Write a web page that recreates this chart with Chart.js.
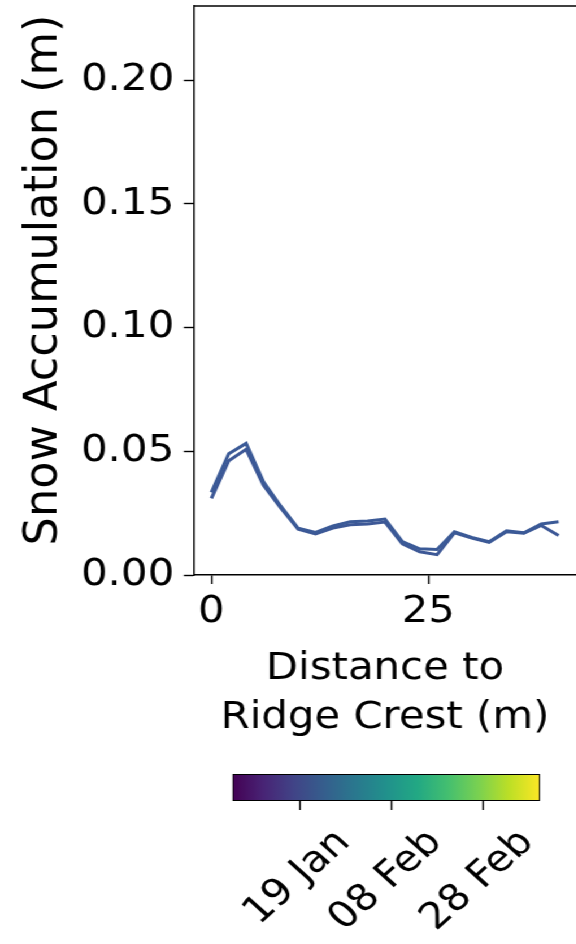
<!DOCTYPE html>
<html>
<head>
<meta charset="utf-8">
<script src="https://cdn.jsdelivr.net/npm/chart.js@4/dist/chart.umd.min.js"></script>
<style>
  html, body { margin: 0; padding: 0; background: #fff; overflow: hidden; width: 576px; height: 944px; }
  /* the figure is laid out on a 510px-wide stage and widened to the page */
  #stage { position: absolute; left: 0; top: 0; width: 520px; height: 944px; transform: scaleX(1.13); transform-origin: 0 0; }
  #main { position: absolute; left: 0; top: 0; }
  #cbar { position: absolute; left: 0; top: 760px; }
</style>
</head>
<body>
<div id="stage">
  <canvas id="main" width="520" height="760"></canvas>
  <canvas id="cbar" width="520" height="184"></canvas>
</div>
<script>
// Distance to ridge crest (m)
const distance = [0, 2, 4, 6, 8, 10, 12, 14, 16, 18, 20, 22, 24, 26, 28, 30, 32, 34, 36, 38, 40];
// Snow accumulation (m) for two survey dates
const accumEarly = [0.0334, 0.0490, 0.0532, 0.0377, 0.0278, 0.0189, 0.0172, 0.0198, 0.0215, 0.0218, 0.0226,
                    0.0135, 0.0106, 0.0103, 0.0175, 0.0152, 0.0135, 0.0179, 0.0171, 0.0206, 0.0215];
const accumLate  = [0.0310, 0.0462, 0.0508, 0.0363, 0.0270, 0.0185, 0.0166, 0.0190, 0.0203, 0.0206, 0.0214,
                    0.0126, 0.0094, 0.0082, 0.0170, 0.0149, 0.0132, 0.0175, 0.0169, 0.0200, 0.0160];
const lineColors = ['#3b5a97', '#3d5896'];
const yTitle = 'Snow Accumulation (m)';
const xTitle = ['Distance to', 'Ridge Crest (m)'];

// Colour bar: day of year (1 Jan = 0)
const dayRange = [3.3, 70.3];
const dayTicks = [18, 38, 58];
const dayTickLabels = ['19 Jan', '08 Feb', '28 Feb'];
const viridis = ['#440154', '#482475', '#414487', '#355f8d', '#2a788e', '#21918c',
                 '#22a884', '#44bf70', '#7ad151', '#bddf26', '#fde725'];

const FONT = 'DejaVu Sans';
const INK = '#000';

// top spine of the axes box
const frameTop = {
  id: 'frameTop',
  afterDraw(chart) {
    const { ctx, chartArea } = chart;
    ctx.save();
    ctx.strokeStyle = INK;
    ctx.lineWidth = 1.4;
    ctx.beginPath();
    ctx.moveTo(chartArea.left, chartArea.top);
    ctx.lineTo(chartArea.right + 2, chartArea.top);
    ctx.stroke();
    ctx.restore();
  }
};

// rotated y-axis label, drawn slightly elongated along its run
const yLabel = {
  id: 'yLabel',
  afterDraw(chart) {
    const { ctx } = chart;
    ctx.save();
    ctx.translate(40, 280);
    ctx.rotate(-Math.PI / 2);
    ctx.scale(1.115, 1);
    ctx.font = `40px "${FONT}"`;
    ctx.fillStyle = INK;
    ctx.textAlign = 'center';
    ctx.textBaseline = 'middle';
    ctx.fillText(yTitle, 0, 0);
    ctx.restore();
  }
};

function noEdgePadding(s) {
  s.paddingTop = 0; s.paddingBottom = 0; s.paddingLeft = 0; s.paddingRight = 0;
}

new Chart(document.getElementById('main'), {
  type: 'line',
  data: {
    datasets: [accumEarly, accumLate].map((vals, k) => ({
      data: distance.map((d, i) => ({ x: d, y: vals[i] })),
      borderColor: lineColors[k],
      borderWidth: 3,
      pointRadius: 0,
      tension: 0,
      fill: false
    }))
  },
  options: {
    responsive: false,
    animation: false,
    layout: { padding: { top: 6, left: 0, right: 10.3, bottom: 0 } },
    plugins: { legend: { display: false }, tooltip: { enabled: false } },
    scales: {
      x: {
        type: 'linear',
        min: -2,
        max: 42,
        afterFit(s) { s.height = 185; noEdgePadding(s); },
        ticks: { stepSize: 25, includeBounds: false, color: INK, padding: 6,
                 font: { family: FONT, size: 37 }, maxRotation: 0 },
        grid: { drawOnChartArea: false, tickLength: 9, tickColor: INK, tickWidth: 1.4 },
        border: { display: true, color: INK, width: 1.4 },
        title: { display: true, text: xTitle, color: INK,
                 font: { family: FONT, size: 37, lineHeight: 1.32 }, padding: { top: 0, bottom: 17.6 } }
      },
      y: {
        min: 0,
        max: 0.23,
        afterFit(s) { s.width = 171.7; noEdgePadding(s); },
        ticks: { stepSize: 0.05, includeBounds: false, color: INK, padding: 8.5,
                 font: { family: FONT, size: 37 }, callback: v => v.toFixed(2) },
        grid: { drawOnChartArea: false, tickLength: 9, tickColor: INK, tickWidth: 1.4 },
        border: { display: true, color: INK, width: 1.4 }
      }
    }
  },
  plugins: [frameTop, yLabel]
});

function viridisFill(c) {
  const { ctx, chartArea } = c.chart;
  if (!chartArea) return viridis[5];
  const g = ctx.createLinearGradient(chartArea.left, 0, chartArea.right, 0);
  viridis.forEach((col, i) => g.addColorStop(i / (viridis.length - 1), col));
  return g;
}

new Chart(document.getElementById('cbar'), {
  type: 'bar',
  data: {
    labels: ['date'],
    datasets: [{
      data: [dayRange],
      backgroundColor: viridisFill,
      borderColor: INK,
      borderWidth: 1.3,
      borderSkipped: false,
      barPercentage: 1,
      categoryPercentage: 1
    }]
  },
  options: {
    indexAxis: 'y',
    responsive: false,
    animation: false,
    layout: { padding: { top: 14, left: 205.6, right: 42.1, bottom: 0 } },
    plugins: { legend: { display: false }, tooltip: { enabled: false } },
    scales: {
      y: { display: false },
      x: {
        type: 'linear',
        min: dayRange[0],
        max: dayRange[1],
        afterFit(s) { s.height = 184 - 41; noEdgePadding(s); },
        afterBuildTicks(s) { s.ticks = dayTicks.map(v => ({ value: v })); },
        ticks: {
          color: INK,
          font: { family: FONT, size: 37 },
          minRotation: 45,
          maxRotation: 45,
          labelOffset: 39,
          padding: 11,
          autoSkip: false,
          callback: v => dayTickLabels[dayTicks.indexOf(v)]
        },
        grid: { drawOnChartArea: false, tickLength: 9, tickColor: INK, tickWidth: 1.4 },
        border: { display: false }
      }
    }
  }
});
</script>
</body>
</html>
